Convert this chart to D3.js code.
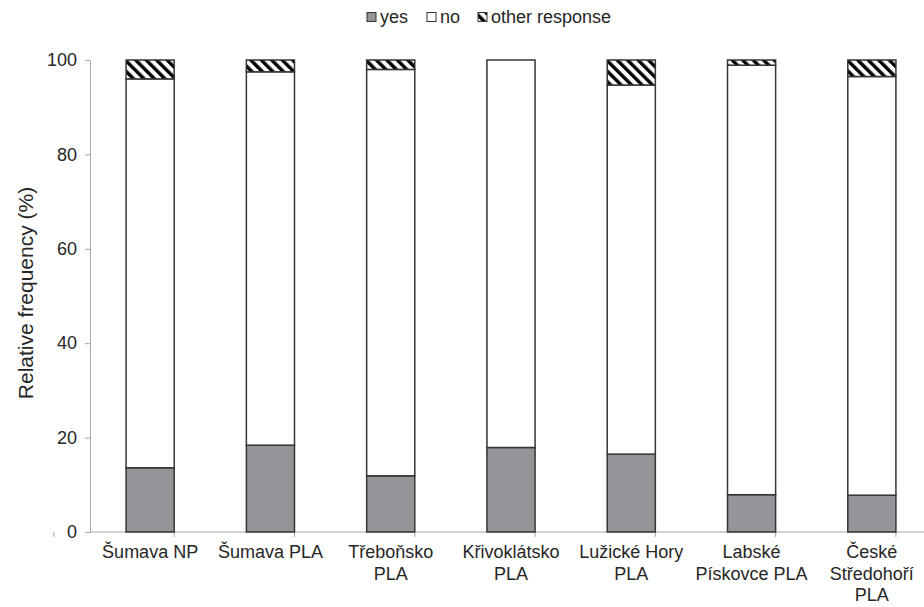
<!DOCTYPE html>
<html><head><meta charset="utf-8">
<script src="https://cdn.jsdelivr.net/npm/d3@7"></script>
<style>body{margin:0;background:#fff}svg{display:block}text{font-family:"Liberation Sans",Arial,sans-serif;fill:#262626}</style>
</head><body><svg id="c" width="924" height="607"></svg>
<script>
const categories = [["Šumava NP"],["Šumava PLA"],["Třeboňsko","PLA"],["Křivoklátsko","PLA"],["Lužické Hory","PLA"],["Labské","Pískovce PLA"],["České","Středohoří","PLA"]];
const yesValues = [13.6, 18.4, 11.9, 17.9, 16.5, 7.9, 7.8];
const noValues = [82.4, 79.1, 86.1, 82.1, 78.2, 91.0, 88.7];
const otherValues = [4.0, 2.5, 2.0, 0.0, 5.3, 1.1, 3.5];
const yTicks = [0, 20, 40, 60, 80, 100];
const seriesNames = ["yes", "no", "other response"];

const svg = d3.select("#c");
const defs = svg.append("defs");
const pat = defs.append("pattern").attr("id","hatch").attr("patternUnits","userSpaceOnUse")
  .attr("width",7.4).attr("height",7.4).attr("patternTransform","rotate(-45)");
pat.append("rect").attr("width",7.4).attr("height",7.4).attr("fill","#fff");
pat.append("rect").attr("x",0).attr("y",0).attr("width",3.4).attr("height",7.4).attr("fill","#000");

const fills = ["#939598", "#ffffff", "url(#hatch)"];
const labels = categories.map(c => c.join(" "));
const x = d3.scaleBand().domain(labels).range([90, 932]).paddingInner(0.6).paddingOuter(0.3);
const y = d3.scaleLinear().domain([0, 100]).range([532, 60]);

const data = labels.map((l, i) => ({cat: l, yes: yesValues[i], no: noValues[i], other: otherValues[i]}));
const stack = d3.stack().keys(["yes","no","other"])(data);

const axisColor = "#a6a6a6";
// y axis
const yAxis = svg.append("g").attr("transform","translate(90,0)")
  .call(d3.axisLeft(y).tickValues(yTicks).tickSize(5).tickSizeOuter(0).tickPadding(8));
yAxis.select(".domain").attr("stroke", axisColor);
yAxis.selectAll(".tick line").attr("stroke", axisColor);
yAxis.selectAll(".tick text").style("font-size","18px").attr("fill","#262626");

// x axis line and ticks
const xg = svg.append("g");
xg.append("line").attr("x1",90).attr("x2",932).attr("y1",y(0)).attr("y2",y(0)).attr("stroke",axisColor);
const step = x.step();
const bounds = d3.range(labels.length + 1).map(i => x(labels[0]) - x.paddingOuter()*step - x.paddingInner()*step/2 + i*step);
xg.selectAll("line.t").data(bounds).join("line").attr("class","t")
  .attr("x1",d=>d).attr("x2",d=>d).attr("y1",y(0)).attr("y2",y(0)+5).attr("stroke",axisColor);

// bars
stack.forEach((s, si) => {
  svg.append("g").selectAll("rect").data(s.filter(d => d[1] - d[0] > 0)).join("rect")
    .attr("x", d => x(d.data.cat))
    .attr("width", x.bandwidth())
    .attr("y", d => y(d[1]))
    .attr("height", d => y(d[0]) - y(d[1]))
    .attr("fill", fills[si])
    .attr("stroke", "#363636").attr("stroke-width", 1.5);
});

// x labels
categories.forEach((lines, i) => {
  const cx = x(labels[i]) + x.bandwidth()/2;
  const t = svg.append("text").attr("x", cx).attr("y", 558)
    .attr("text-anchor","middle").style("font-size","18px");
  lines.forEach((ln, j) => t.append("tspan").attr("x", cx).attr("dy", j ? 21.5 : 0).text(ln));
});

// y label
svg.append("text").attr("transform","translate(33,293) rotate(-90)").attr("text-anchor","middle")
  .style("font-size","21px").text("Relative frequency (%)");

// legend
const legX = [367, 427, 478];
const lg = svg.append("g");
seriesNames.forEach((n, i) => {
  lg.append("rect").attr("x", legX[i]).attr("y", 12.5).attr("width", 9).attr("height", 9)
    .attr("fill", fills[i]).attr("stroke", "#333").attr("stroke-width", 1);
  lg.append("text").attr("x", legX[i] + 13).attr("y", 23).style("font-size","18px").text(n);
});
</script></body></html>
